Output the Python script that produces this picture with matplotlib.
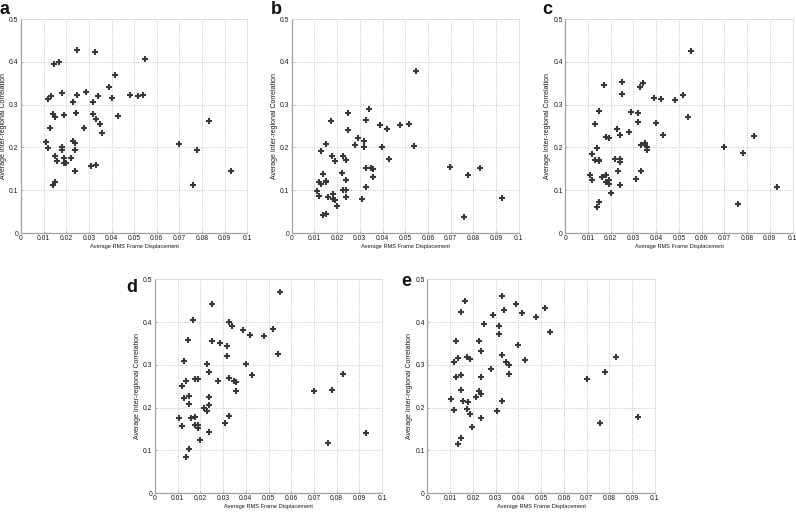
import matplotlib
matplotlib.use("Agg")
import matplotlib.pyplot as plt
import numpy as np

plt.rcParams['font.family'] = ['Liberation Sans', 'DejaVu Sans']

# ---------------- data ----------------
a_x = [0.0120, 0.0131, 0.0179, 0.0249, 0.0289, 0.0229, 0.0320, 0.0340, 0.0388, 0.0400,
       0.0480, 0.0140, 0.0150, 0.0189, 0.0241, 0.0320, 0.0330, 0.0350, 0.0360, 0.0428,
       0.0280, 0.0129, 0.0110, 0.0119, 0.0179, 0.0179, 0.0229, 0.0239, 0.0239, 0.0150,
       0.0159, 0.0189, 0.0189, 0.0200, 0.0220, 0.0239, 0.0309, 0.0330, 0.0140, 0.0150,
       0.0249, 0.0166, 0.0146, 0.0546, 0.0327, 0.0417, 0.0518, 0.0540, 0.0700, 0.0758,
       0.0779, 0.0829, 0.0929]
a_y = [0.312, 0.319, 0.326, 0.323, 0.329, 0.306, 0.307, 0.319, 0.340, 0.315,
       0.322, 0.279, 0.271, 0.276, 0.280, 0.279, 0.266, 0.255, 0.233, 0.274,
       0.245, 0.245, 0.2125, 0.198, 0.2016, 0.193, 0.216, 0.211, 0.193, 0.180,
       0.168, 0.175, 0.164, 0.1625, 0.176, 0.144, 0.157, 0.160, 0.111, 0.120,
       0.428, 0.399, 0.396, 0.407, 0.424, 0.368, 0.319, 0.323, 0.209, 0.111,
       0.195, 0.262, 0.146]

b_x = [0.0339, 0.0250, 0.0172, 0.0329, 0.0389, 0.0421, 0.0250, 0.0290, 0.0319, 0.0280,
       0.0319, 0.0399, 0.0150, 0.0129, 0.0179, 0.0190, 0.0228, 0.0240, 0.0430, 0.0220,
       0.0240, 0.0329, 0.0348, 0.0360, 0.0360, 0.0329, 0.0139, 0.0120, 0.0129, 0.0150,
       0.0150, 0.0110, 0.0120, 0.0160, 0.0180, 0.0180, 0.0190, 0.0228, 0.0240, 0.0240,
       0.0200, 0.0310, 0.0139, 0.0150, 0.0477, 0.0517, 0.0537, 0.0548, 0.0698, 0.0758,
       0.0778, 0.0828, 0.0928]
b_y = [0.289, 0.281, 0.2625, 0.265, 0.2516, 0.243, 0.241, 0.221, 0.216, 0.206,
       0.2016, 0.2016, 0.207, 0.1906, 0.179, 0.168, 0.181, 0.171, 0.173, 0.1406,
       0.1227, 0.152, 0.151, 0.149, 0.130, 0.107, 0.137, 0.118, 0.114, 0.121,
       0.119, 0.0984, 0.0867, 0.085, 0.091, 0.0797, 0.078, 0.1016, 0.1016, 0.0852,
       0.0633, 0.079, 0.0414, 0.0453, 0.252, 0.254, 0.204, 0.378, 0.155, 0.037,
       0.136, 0.151, 0.082]

c_x = [0.0150, 0.0129, 0.0290, 0.0321, 0.0321, 0.0401, 0.0431, 0.0229, 0.0241, 0.0279,
       0.0181, 0.0191, 0.0138, 0.0119, 0.0129, 0.0150, 0.0150, 0.0220, 0.0241, 0.0241,
       0.0331, 0.0350, 0.0360, 0.0360, 0.0231, 0.0331, 0.0310, 0.0109, 0.0119, 0.0160,
       0.0181, 0.0181, 0.0191, 0.0191, 0.0241, 0.0200, 0.0150, 0.0140,
       0.0551, 0.0170, 0.0249, 0.0249, 0.0328, 0.0340, 0.0389, 0.0419, 0.0481, 0.0519,
       0.0540, 0.0700, 0.0760, 0.0780, 0.0830, 0.0930]
c_y = [0.286, 0.254, 0.2836, 0.281, 0.259, 0.256, 0.2297, 0.243, 0.228, 0.236,
       0.224, 0.221, 0.1977, 0.185, 0.170, 0.170, 0.168, 0.173, 0.173, 0.166,
       0.205, 0.210, 0.202, 0.193, 0.146, 0.145, 0.126, 0.135, 0.1227, 0.130,
       0.135, 0.1195, 0.1227, 0.1156, 0.1117, 0.0937, 0.0734, 0.061,
       0.426, 0.346, 0.353, 0.3255, 0.340, 0.351, 0.315, 0.312, 0.3115, 0.322,
       0.271, 0.200, 0.068, 0.188, 0.226, 0.107]

d_x = [0.0550, 0.0249, 0.0169, 0.0328, 0.0340, 0.0388, 0.0418, 0.0480, 0.0519, 0.0541,
       0.0147, 0.0249, 0.0288, 0.0318, 0.0318, 0.0400, 0.0429, 0.0126, 0.0228, 0.0238,
       0.0328, 0.0349, 0.0359, 0.0359, 0.0278, 0.0178, 0.0188, 0.0137, 0.0118, 0.0238,
       0.0238, 0.0149, 0.0128, 0.0149, 0.0218, 0.0228, 0.0328, 0.0107, 0.0157, 0.0178,
       0.0178, 0.0188, 0.0188, 0.0118, 0.0238, 0.0309, 0.0199, 0.0149, 0.0138,
       0.0700, 0.0761, 0.0780, 0.0829, 0.0930]
d_y = [0.470, 0.4415, 0.405, 0.400, 0.3916, 0.382, 0.370, 0.3666, 0.3846, 0.326,
       0.358, 0.3565, 0.352, 0.344, 0.320, 0.302, 0.277, 0.308, 0.3027, 0.282,
       0.270, 0.263, 0.260, 0.2395, 0.263, 0.2676, 0.2676, 0.261, 0.250, 0.2246,
       0.205, 0.227, 0.2215, 0.209, 0.198, 0.193, 0.180, 0.176, 0.1747, 0.177,
       0.160, 0.160, 0.152, 0.156, 0.1435, 0.1638, 0.124, 0.1037, 0.085,
       0.2387, 0.117, 0.242, 0.2785, 0.1404]

e_x = [0.0167, 0.0147, 0.0327, 0.0288, 0.0247, 0.0388, 0.0339, 0.0418, 0.0477, 0.0518,
       0.0539, 0.0317, 0.0317, 0.0398, 0.0429, 0.0126, 0.0226, 0.0238, 0.0327, 0.0347,
       0.0358, 0.0358, 0.0278, 0.0116, 0.0137, 0.0176, 0.0186, 0.0126, 0.0147, 0.0238,
       0.0147, 0.0226, 0.0238, 0.0216, 0.0106, 0.0156, 0.0178, 0.0327, 0.0116, 0.0176,
       0.0186, 0.0238, 0.0307, 0.0198, 0.0147, 0.0137,
       0.0700, 0.0760, 0.0780, 0.0829, 0.0927]
e_y = [0.4485, 0.424, 0.461, 0.417, 0.3947, 0.443, 0.428, 0.422, 0.411, 0.432,
       0.376, 0.390, 0.373, 0.347, 0.312, 0.3565, 0.3557, 0.3323, 0.322, 0.3065,
       0.2995, 0.2785, 0.290, 0.3065, 0.3167, 0.319, 0.3143, 0.2707, 0.276, 0.2707,
       0.241, 0.2387, 0.2325, 0.2246, 0.220, 0.2153, 0.212, 0.2145, 0.195, 0.1958,
       0.1856, 0.1755, 0.191, 0.1544, 0.1295, 0.1139,
       0.267, 0.163, 0.2825, 0.3172, 0.1784]

panel_letters = ['a', 'b', 'c', 'd', 'e']
x_ticks = [0, 0.01, 0.02, 0.03, 0.04, 0.05, 0.06, 0.07, 0.08, 0.09, 0.1]
x_tick_labels = ['0', '0.01', '0.02', '0.03', '0.04', '0.05', '0.06', '0.07', '0.08', '0.09', '0.1']
y_ticks = [0, 0.1, 0.2, 0.3, 0.4, 0.5]
y_tick_labels = ['0', '0.1', '0.2', '0.3', '0.4', '0.5']
x_label = 'Average RMS Frame Displacement'
y_label = 'Average Inter-regional Correlation'

# ---------------- layout ----------------
W, H = 796, 512
fig = plt.figure(figsize=(W / 100, H / 100), dpi=100)

# axes boxes in pixels: left, top, right, bottom
boxes = [
    (21, 19, 247.3, 233),
    (291.7, 19, 518.7, 233),
    (565.3, 19, 792.6, 233),
    (155, 279.3, 382, 493),
    (427.3, 279.3, 655, 493),
]
letter_pos = [(0, 14), (271, 14.5), (542, 14.5), (126, 291.5), (401, 285.5)]

data = [(a_x, a_y), (b_x, b_y), (c_x, c_y), (d_x, d_y), (e_x, e_y)]

for (l, t, r, b), (xs, ys), letter, (lx, ly) in zip(boxes, data, panel_letters, letter_pos):
    ax = fig.add_axes([l / W, 1 - b / H, (r - l) / W, (b - t) / H])
    ax.plot(xs, ys, linestyle='none', marker='+', markersize=4.0,
            markeredgewidth=1.5, color='#383838')
    ax.set_xlim(0, 0.1)
    ax.set_ylim(0, 0.5)
    ax.set_xticks(x_ticks)
    ax.set_xticklabels(x_tick_labels)
    ax.set_yticks(y_ticks)
    ax.set_yticklabels(y_tick_labels)
    ax.grid(True, linestyle=(0, (1, 1.5)), color='#c4c4c4', linewidth=0.7)
    ax.set_axisbelow(True)
    ax.tick_params(axis='both', labelsize=4.9, length=1.5, width=0.5,
                   direction='in', colors='#9a9a9a', labelcolor='#1a1a1a', pad=1.8)
    for side in ['top', 'right']:
        ax.spines[side].set_color('#dcdcdc')
        ax.spines[side].set_linewidth(0.6)
    for side in ['left', 'bottom']:
        ax.spines[side].set_color('#a0a0a0')
        ax.spines[side].set_linewidth(0.9)
    ax.set_xlabel(x_label, fontsize=4.1, labelpad=1.2, color='#1a1a1a')
    ax.set_ylabel(y_label, fontsize=5.0, labelpad=1.5, color='#1a1a1a')
    fig.text(lx / W, 1 - ly / H, letter, fontsize=13, fontweight='bold',
             ha='left', va='baseline', color='#111111')

fig.savefig('out.png', dpi=100)
